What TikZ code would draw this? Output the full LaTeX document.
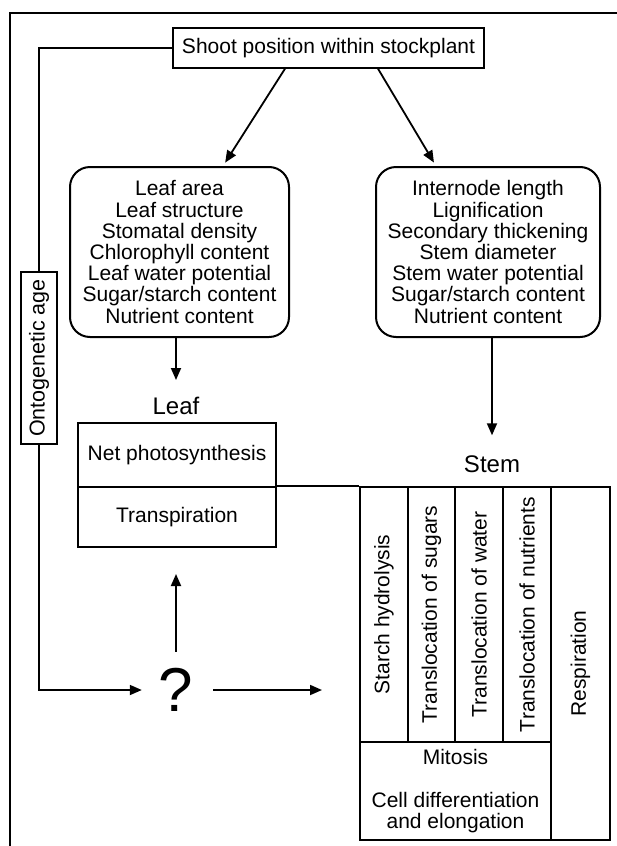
\documentclass[tikz,border=0pt]{standalone}
\usepackage{fontspec}
\setmainfont{Liberation Sans}
\usetikzlibrary{arrows.meta}
\begin{document}
\begin{tikzpicture}[x=1pt,y=-1pt,
  every node/.style={inner sep=0pt, font=\fontsize{21}{21.2}\selectfont},
  box/.style={draw, line width=2pt},
  rbox/.style={draw, line width=2pt, rounded corners=20pt, align=center},
  cell/.style={draw, line width=2pt, minimum width=48pt, minimum height=255pt},
  big/.style={font=\fontsize{24}{25}\selectfont},
  arr/.style={line width=1.8pt, -{Triangle[length=12pt,width=10pt]}},
  ln/.style={line width=1.8pt}]
\useasboundingbox (0,0) rectangle (617,846);
% frame
\draw[line width=2pt] (10,846) -- (10,13) -- (617,13);
% top box
\node[box, minimum width=311pt, minimum height=40pt] (shoot) at (328.5,47.7) {Shoot position within stockplant};
% rounded boxes
\node[rbox, minimum width=219pt, minimum height=170pt] (leafbox) at (179.5,252)
  {Leaf area\\Leaf structure\\Stomatal density\\Chlorophyll content\\Leaf water potential\\Sugar/starch content\\Nutrient content};
\node[rbox, minimum width=224pt, minimum height=170pt] (stembox) at (488,252)
  {Internode length\\Lignification\\Secondary thickening\\Stem diameter\\Stem water potential\\Sugar/starch content\\Nutrient content};
% labels
\node[big] (leaflbl) at (176,406) {Leaf};
\node[big] (stemlbl) at (492,464) {Stem};
% leaf table
\node[box, minimum width=198pt, minimum height=64pt] (netps) at (177,455) {Net photosynthesis};
\node[box, minimum width=198pt, minimum height=60pt] (transp) at (177,517) {Transpiration};
% stem table
\node[cell] (c1) at (384,614.5) {\rotatebox{90}{Starch hydrolysis}};
\node[cell, minimum width=47pt] (c2) at (431.5,614.5) {\rotatebox{90}{Translocation of sugars}};
\node[cell] (c3) at (479,614.5) {\rotatebox{90}{Translocation of water}};
\node[cell] (c4) at (527,614.5) {\rotatebox{90}{Translocation of nutrients}};
\node[box, minimum width=59pt, minimum height=353pt] (resp) at (580.5,663.5) {\rotatebox{90}{Respiration}};
\node[box, minimum width=191pt, minimum height=98pt, align=center] (mit) at (455.5,791)
  {Mitosis\\[21.2pt]Cell differentiation\\and elongation};
% ontogenetic age
\node[box, minimum width=36pt, minimum height=172pt, font=\fontsize{21.5}{22}\selectfont] (onto) at (39,358) {\rotatebox{90}{Ontogenetic age}};
% question mark
\node[minimum width=68pt, minimum height=76pt, font=\fontsize{62}{64}\selectfont] (q) at (176,690) {?};
% connectors
\draw[ln] (shoot.west) -| (onto.north);
\draw[arr] (onto.south) |- (q.west);
\draw[arr, shorten >=4pt] ([xshift=-43.5pt]shoot.south) -- ([xshift=43.5pt]leafbox.north);
\draw[arr, shorten >=4pt] ([xshift=49.5pt]shoot.south) -- ([xshift=-52pt]stembox.north);
\draw[arr, shorten >=17pt] (leaflbl.north |- leafbox.south) -- (leaflbl.north);
\draw[arr, shorten >=20pt] (stemlbl.north |- stembox.south) -- (stemlbl.north);
\draw[ln] (transp.north east) -- (c1.north west);
\draw[arr, shorten >=26pt] (q.north) -- (q.north |- transp.south);
\draw[arr, shorten <=3pt, shorten >=37pt] (q.east) -- (q.east -| c1.west);
\end{tikzpicture}
\end{document}
